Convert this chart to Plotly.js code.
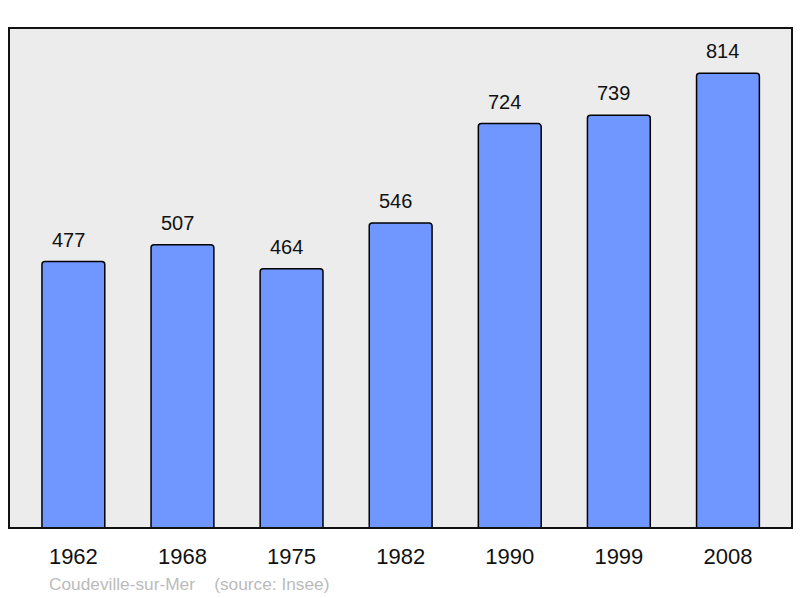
<!DOCTYPE html>
<html><head><meta charset="utf-8">
<script src="https://cdn.plot.ly/plotly-3.0.1.min.js"></script>
<style>html,body{margin:0;padding:0;background:#fff;}#chart{width:800px;height:598px;}</style>
</head><body><div id="chart"></div>
<script>
var years = ["1962","1968","1975","1982","1990","1999","2008"];
var population = [477,507,464,546,724,739,814];
var footerText = "Coudeville-sur-Mer    (source: Insee)";

var FONT = "Liberation Sans, Arial, sans-serif";

var trace = {
  type: "bar",
  x: years,
  y: population,
  marker: {color: "#7096ff", line: {color: "#000", width: 1.5}, cornerradius: 3},
  hoverinfo: "none"
};

var annotations = years.map(function(yr, i){
  return {x: i, y: population[i], xref: "x", yref: "y", text: String(population[i]),
    showarrow: false, yanchor: "bottom", yshift: 9, xshift: -5,
    font: {family: FONT, size: 20, color: "#111"}};
});
annotations.push({xref: "paper", yref: "paper", x: 0.048, y: -0.112, xanchor: "left", yanchor: "middle",
  text: footerText.replace(/ /g, "&nbsp;"), showarrow: false,
  font: {family: FONT, size: 17.3, color: "#bbbbbb"}});

var layout = {
  width: 800, height: 598,
  margin: {l: 9, r: 8, t: 28, b: 70},
  paper_bgcolor: "#ffffff",
  plot_bgcolor: "#ececec",
  bargap: 0.424,
  showlegend: false,
  xaxis: {type: "category", range: [-0.59, 6.587], showgrid: false, zeroline: false,
    showline: false, ticks: "", ticklabelstandoff: 13,
    tickfont: {family: FONT, size: 22, color: "#111"}},
  yaxis: {range: [0, 895], showgrid: false, zeroline: false, showticklabels: false, showline: false},
  shapes: [{type: "rect", xref: "paper", yref: "paper", x0: 0, x1: 1, y0: 0, y1: 1,
    line: {color: "#111", width: 2}, layer: "above"}],
  annotations: annotations
};

Plotly.newPlot("chart", [trace], layout, {staticPlot: true});
</script>
</body></html>
